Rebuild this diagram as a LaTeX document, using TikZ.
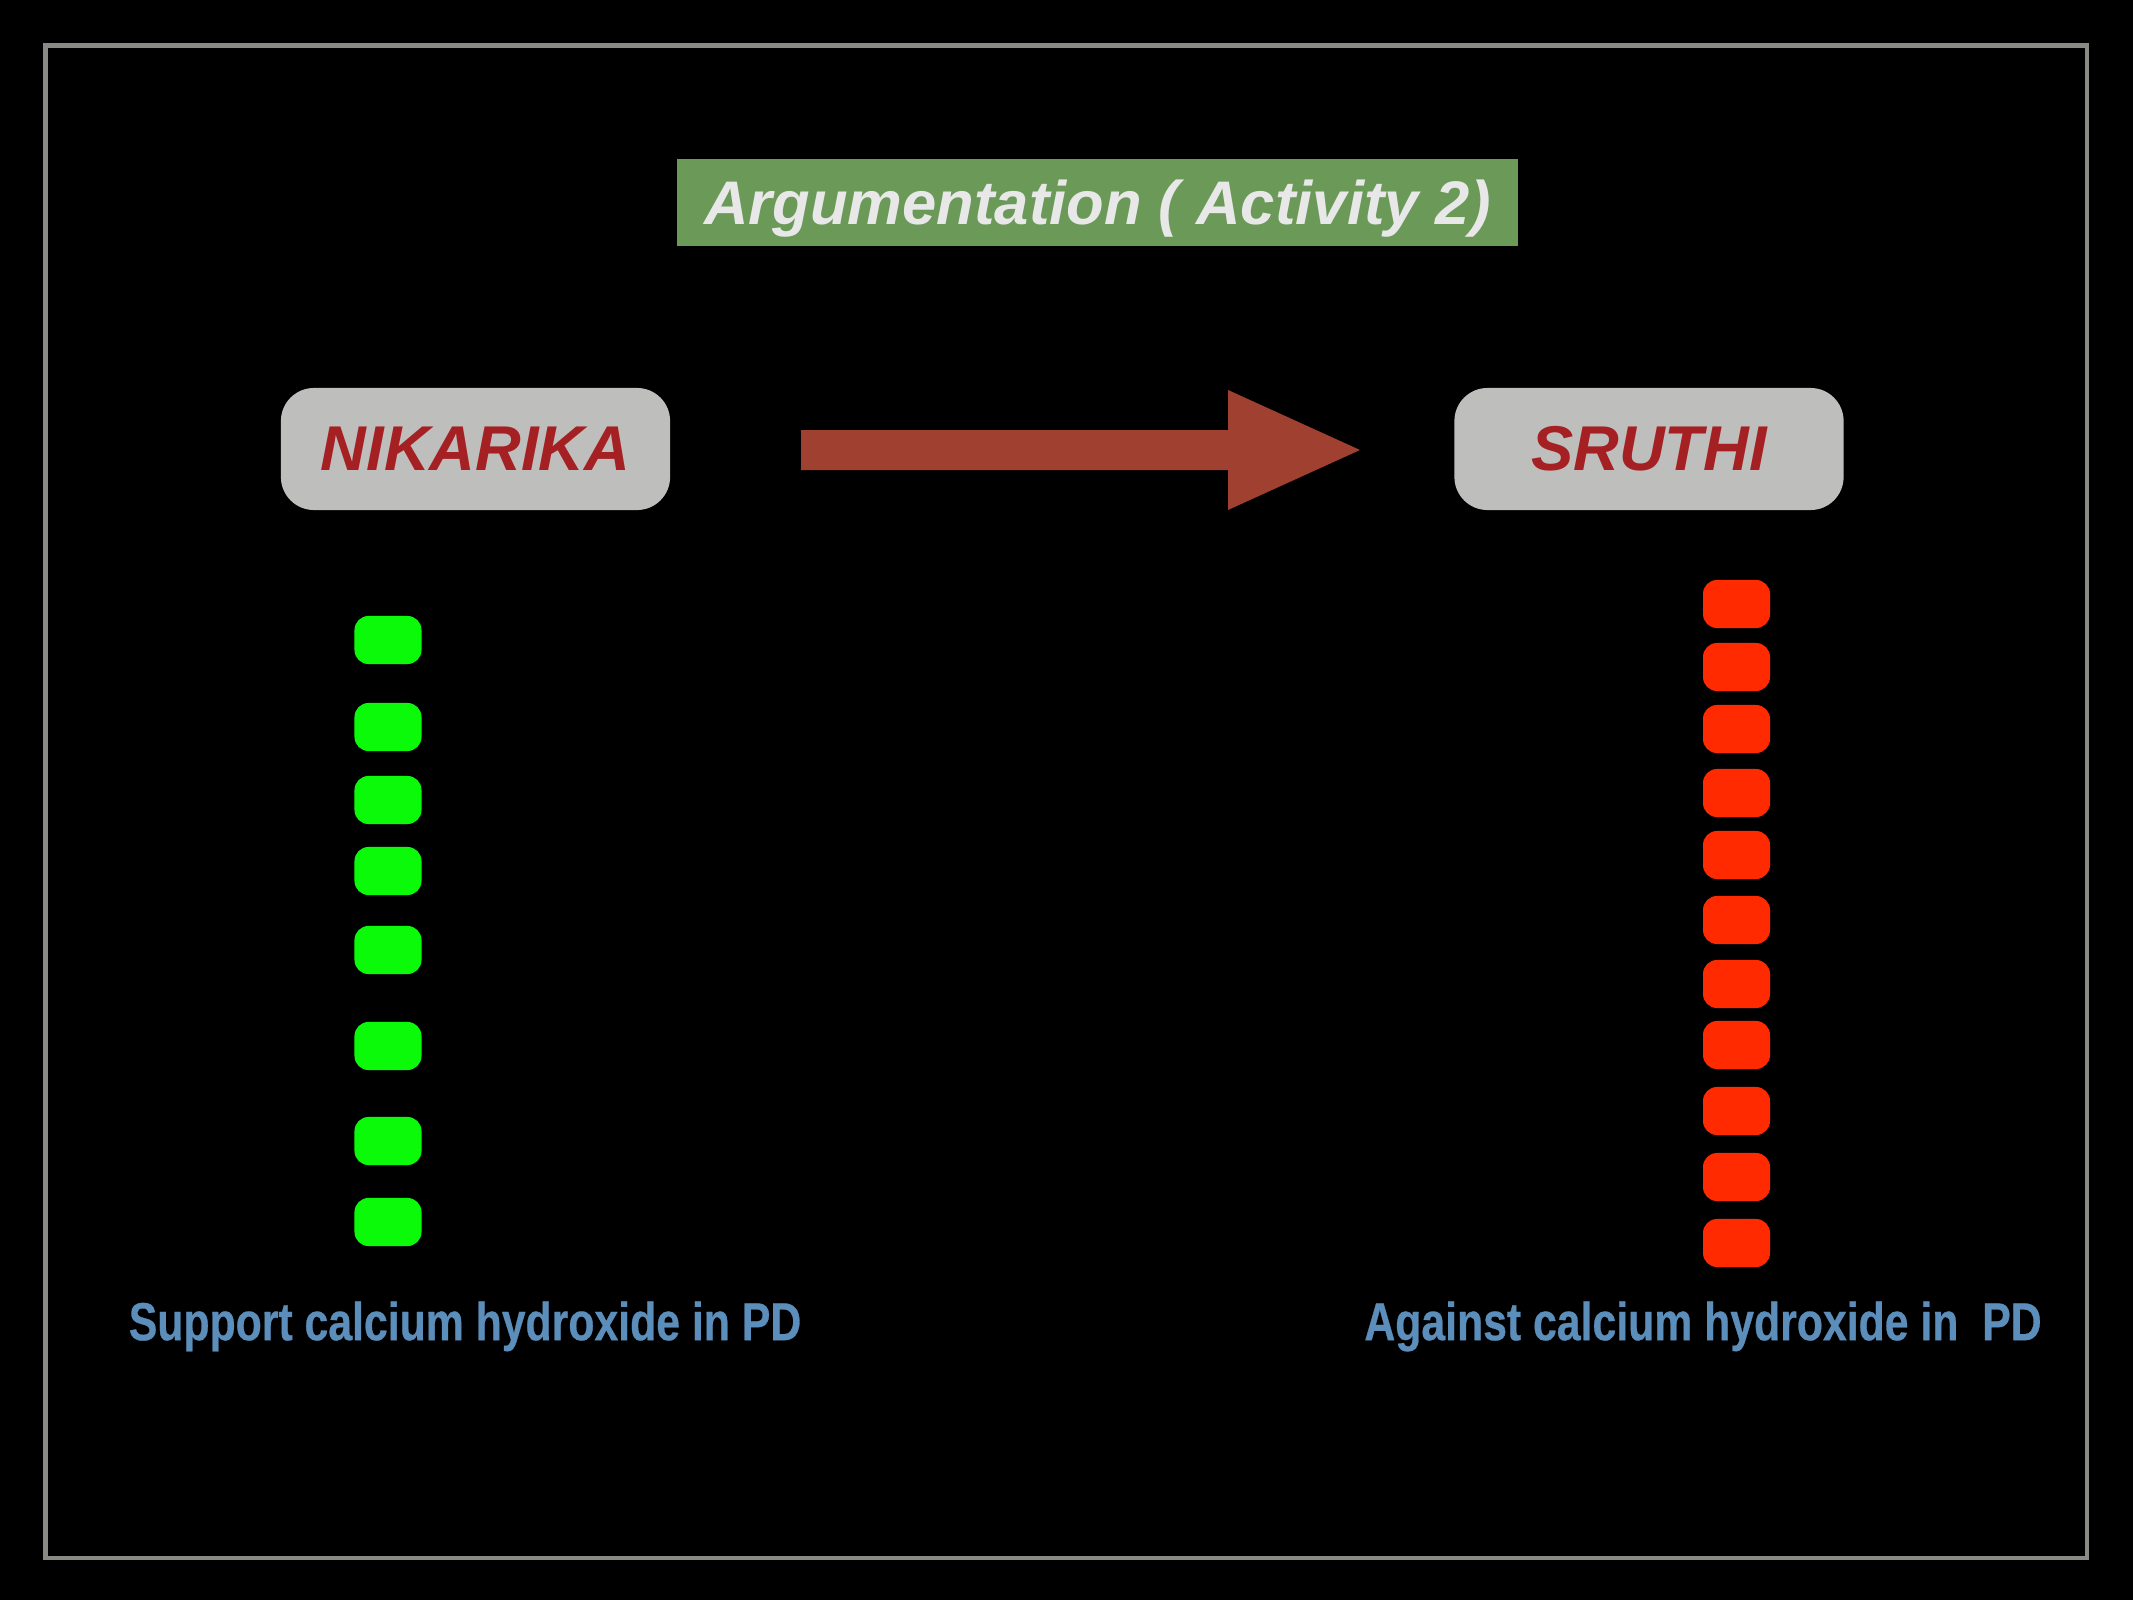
\documentclass[tikz,border=0pt]{standalone}
\usepackage{fontspec}
\setmainfont{Liberation Sans}
\newfontfamily\narrowfont{Liberation Sans}[FakeStretch=0.8, FakeBold=0.5]

\definecolor{framegray}{RGB}{138,138,133}
\definecolor{titlegreen}{RGB}{106,153,88}
\definecolor{titletext}{RGB}{232,232,232}
\definecolor{boxgray}{RGB}{190,190,188}
\definecolor{namered}{RGB}{165,32,34}
\definecolor{arrowred}{RGB}{160,64,48}
\definecolor{pointgreen}{RGB}{10,250,10}
\definecolor{pointred}{RGB}{255,42,0}
\definecolor{labelblue}{RGB}{91,142,186}

\tikzset{
    namebox/.style={fill=boxgray, rounded corners=0.33cm, minimum width=3.89cm, minimum height=1.22cm,
        text=namered, font=\fontsize{18pt}{20pt}\selectfont\bfseries\itshape},
    pointbox/.style={rounded corners=0.14cm, minimum width=0.67cm, minimum height=0.48cm, inner sep=0pt},
    sidelabel/.style={text=labelblue, text height=10.9pt, text depth=0pt,
        font=\fontsize{15.2pt}{17pt}\selectfont\narrowfont\bfseries}
}

\begin{document}
\begin{tikzpicture}[x=0.01cm, y=-0.01cm]
        \useasboundingbox (0,0) rectangle (2133,1600);
        \fill[black] (0,0) rectangle (2133,1600);
        \draw[framegray, line width=1.3pt] (45.5,45.5) rectangle (2087,1558);

        \node[fill=titlegreen, minimum width=8.41cm, minimum height=0.87cm, text=titletext,
            text height=12.5pt, text depth=0pt,
            font=\fontsize{17.5pt}{20pt}\selectfont\bfseries\itshape] (title) at (1097.5,202.5) {Argumentation ( Activity 2)};

        \node[namebox] (nikarika) at (475.5,449) {NIKARIKA};
        \node[namebox] (sruthi) at (1649,449) {SRUTHI};

        \fill[arrowred] (801,430) -- (1228,430) -- (1228,390) -- (1360,450)
            -- (1228,510) -- (1228,470) -- (801,470) -- cycle;

        \foreach \y [count=\i] in {640,727,800,871,950,1046,1141,1222} {
            \node[pointbox, fill=pointgreen] (support\i) at (388,\y) {};
        }

        \foreach \y [count=\i] in {604,667,729,793,855,920,984,1045,1111,1177,1243} {
            \node[pointbox, fill=pointred] (against\i) at (1736.5,\y) {};
        }

        \node[sidelabel] (supportlabel) at (465,1321) {Support calcium hydroxide in PD};
        \node[sidelabel] (againstlabel) at (1703,1321) {Against calcium hydroxide in\ \ PD};
    \end{tikzpicture}
\end{document}
